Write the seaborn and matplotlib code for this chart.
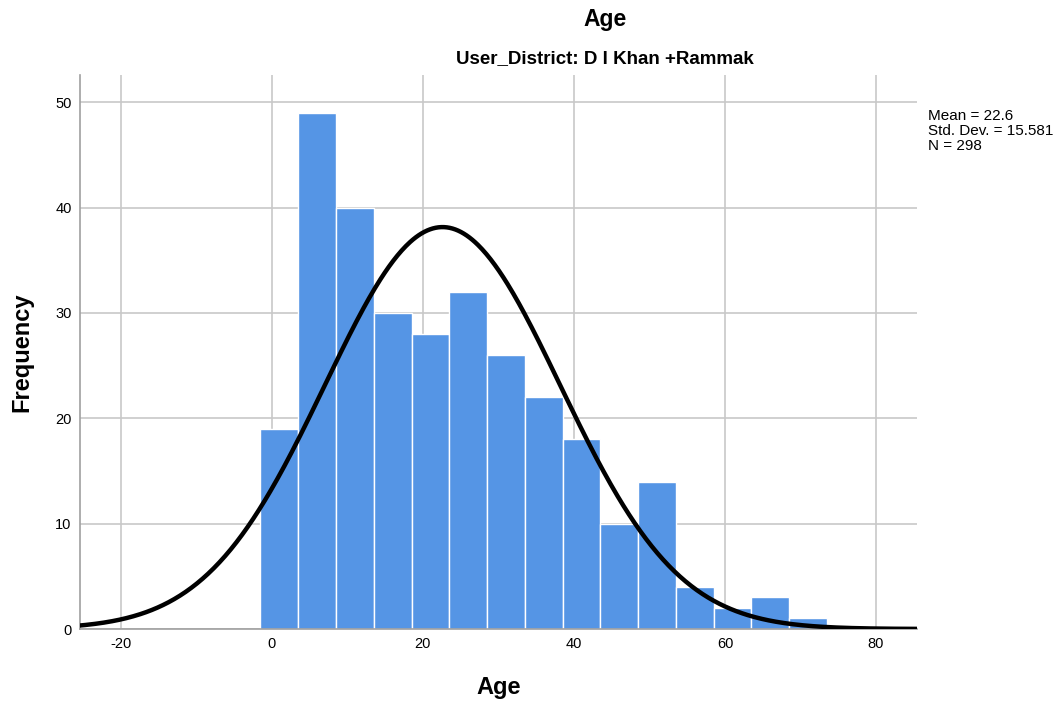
import matplotlib
matplotlib.use('Agg')

import matplotlib.pyplot as plt
import seaborn as sns
import numpy as np
import pandas as pd

# Histogram data (bin width 5, centres 1, 6, ..., 71)
bin_centers = [1, 6, 11, 16, 21, 26, 31, 36, 41, 46, 51, 56, 61, 66, 71]
counts = [19, 49, 40, 30, 28, 32, 26, 22, 18, 10, 14, 4, 2, 3, 1]
bin_width = 5

# Summary statistics shown in the chart
mean_age = 22.6
std_age = 15.581
n_total = 298

x_ticks = [-20, 0, 20, 40, 60, 80]
y_ticks = [0, 10, 20, 30, 40, 50]

BAR_COLOR = '#5595E5'
GRID_COLOR = '#C8C8C8'
SPINE_COLOR = '#A0A0A0'

sns.set_style('white')
plt.rcParams['font.family'] = ['Liberation Sans', 'DejaVu Sans']
plt.rcParams['axes.unicode_minus'] = False
plt.rcParams['text.color'] = 'black'
plt.rcParams['axes.labelcolor'] = 'black'

fig = plt.figure(figsize=(10.62, 7.05), dpi=100)
ax = fig.add_axes([0.0753, 0.1078, 0.788, 0.786])

df = pd.DataFrame({'age': bin_centers, 'count': counts})
edges = [c - bin_width / 2 for c in bin_centers] + [bin_centers[-1] + bin_width / 2]
sns.histplot(data=df, x='age', weights='count', bins=edges, color=BAR_COLOR,
             alpha=1.0, edgecolor='white', linewidth=1.0, ax=ax, zorder=2)

# Fitted normal curve scaled to counts
xs = np.linspace(-26, 86, 600)
ys = n_total * bin_width / (std_age * np.sqrt(2 * np.pi)) * \
    np.exp(-0.5 * ((xs - mean_age) / std_age) ** 2)
ax.plot(xs, ys, color='black', linewidth=3.2, zorder=3)

ax.set_xlim(-25.4, 85.4)
ax.set_ylim(0, 52.6)
ax.set_xticks(x_ticks)
ax.set_yticks(y_ticks)
ax.tick_params(axis='both', length=0, labelsize=10.5, colors='black', pad=6)

ax.grid(True, color=GRID_COLOR, linewidth=1.2)
ax.set_axisbelow(True)
for s in ('top', 'right'):
    ax.spines[s].set_visible(False)
for s in ('left', 'bottom'):
    ax.spines[s].set_color(SPINE_COLOR)
    ax.spines[s].set_linewidth(1.2)

ax.set_xlabel('Age', fontsize=17, fontweight='bold', labelpad=18)
ax.set_ylabel('Frequency', fontsize=17, fontweight='bold', labelpad=16)

fig.text(0.570, 0.973, 'Age', ha='center', va='center', fontsize=16.5, fontweight='bold')
fig.text(0.570, 0.917, 'User_District: D I Khan +Rammak', ha='center', va='center',
         fontsize=13.5, fontweight='bold')

fig.text(0.874, 0.846,
         f'Mean = {mean_age}\nStd. Dev. = {std_age}\nN = {n_total}',
         ha='left', va='top', fontsize=11, linespacing=1.13)

fig.savefig('out.png', dpi=100)
